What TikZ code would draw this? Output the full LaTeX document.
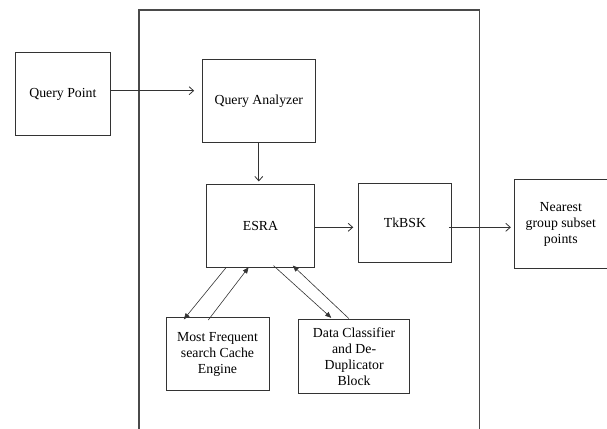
\documentclass[tikz,border=0pt]{standalone}
\usepackage{fontspec}
\setmainfont{Liberation Serif}
\usetikzlibrary{arrows.meta,positioning}
\definecolor{ink}{HTML}{333333}
\definecolor{frame}{HTML}{4A4A4A}
\tikzset{
  block/.style={draw=ink,line width=0.9pt,align=center,inner sep=2pt,
                font=\fontsize{13.8}{16}\selectfont},
  flow/.style={-{Straight Barb[length=4.5pt,width=8pt]},line width=0.8pt,draw=ink},
  link/.style={-{Triangle[length=6pt,width=5pt]},line width=0.6pt,draw=ink}
}
\begin{document}
\begin{tikzpicture}[x=1pt,y=-1pt]
  \useasboundingbox (0,0) rectangle (607,428);
  % system frame, open at the bottom
  \draw[frame,line width=1.1pt] (139,430) -- (139,10) -- (479.3,10) -- (479.3,430);

  \node[block,minimum width=95pt,minimum height=83pt] (qp) at (62.9,94.3) {Query Point};
  \node[block,minimum width=113pt,minimum height=83pt,right=91pt of qp.east,anchor=west,yshift=-6.7pt] (qa) {Query Analyzer};
  \node[block,minimum width=108pt,minimum height=83pt] (esra) at (260.5,226) {ESRA};
  \node[block,minimum width=93pt,minimum height=79pt,right=43pt of esra.east,anchor=west,yshift=2.8pt] (tkbsk) {TkBSK};
  \node[block,minimum width=93pt,minimum height=89pt,right=62pt of tkbsk.east,anchor=west,yshift=-1.1pt] (near)
    {Nearest\\group subset\\points};
  \node[block,minimum width=103pt,minimum height=73pt] (mfs) at (217.5,354)
    {Most Frequent\\search Cache\\Engine};
  \node[block,minimum width=111pt,minimum height=74pt] (dcd) at (354.1,356.5)
    {Data Classifier\\and De-\\Duplicator\\Block};

  \draw[flow,shorten >=7.7pt] ([yshift=3.6pt]qp.east) -- ([yshift=3.6pt]qp.east -| qa.west);
  \draw[flow,shorten >=2.6pt] (qa) -- (qa |- esra.north);
  \draw[flow,shorten >=4.7pt] ([yshift=-1.3pt]esra.east) -- ([yshift=-1.3pt]esra.east -| tkbsk.west);
  \draw[flow,shorten >=3pt] ([yshift=-1.3pt,xshift=-3pt]esra.east -| tkbsk.east) -- ([yshift=-1.3pt]esra.east -| near.west);

  \draw[link] ([xshift=20.2pt,yshift=0.6pt]esra.south west) -- ([xshift=18.3pt,yshift=-2.3pt]mfs.north west);
  \draw[link] ([xshift=42.7pt,yshift=-3pt]mfs.north west) -- ([xshift=42.5pt,yshift=0.6pt]esra.south west);
  \draw[link] ([xshift=67.5pt,yshift=2.3pt]esra.south west) -- ([xshift=33.1pt,yshift=1.2pt]dcd.north west);
  \draw[link] ([xshift=50.7pt,yshift=0.5pt]dcd.north west) -- ([xshift=86.8pt,yshift=2.3pt]esra.south west);
\end{tikzpicture}
\end{document}
